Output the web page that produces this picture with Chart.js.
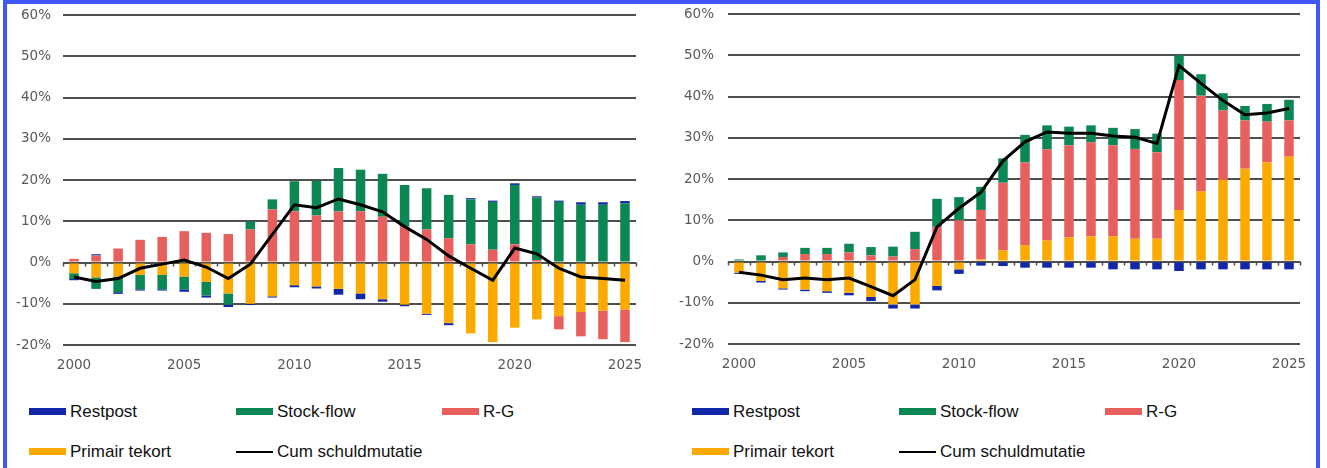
<!DOCTYPE html>
<html>
<head>
<meta charset="utf-8">
<script src="https://cdn.jsdelivr.net/npm/chart.js@4.4.1/dist/chart.umd.min.js"></script>
<style>
  body { margin: 0; background: #fff; width: 1327px; height: 468px; overflow: hidden; position: relative; }
  #frame { position: absolute; left: 3px; top: 0; width: 1309px; height: 490px; border: 4px solid #3f57f7; border-bottom: none; }
  canvas { position: absolute; top: 0; }
  .item { position: absolute; display: flex; align-items: center; white-space: nowrap; height: 20px; line-height: 20px;
          font-family: "Liberation Sans", Arial, sans-serif; font-size: 17px; color: #111; }
  .sw { width: 37px; height: 7px; margin-right: 4px; }
  .sw.line { height: 2px; }
</style>
</head>
<body>
<div id="frame"></div>
<canvas id="links" width="640" height="380" style="left:8px"></canvas>
<canvas id="rechts" width="640" height="380" style="left:672px"></canvas>
<div id="legends"></div>

<script>
// jaren
var jaren = ['2000','2001','2002','2003','2004','2005','2006','2007','2008','2009','2010','2011','2012',
             '2013','2014','2015','2016','2017','2018','2019','2020','2021','2022','2023','2024','2025'];

// linker grafiek (% bbp)
var primL  = [-2.6,-3.6,-3.4,-3.0,-3.0,-3.4,-4.7,-7.5,-10.0,-8.2,-5.5,-5.8,-6.4,-7.5,-8.9,-10.2,-12.4,-14.7,-17.2,-19.3,-15.8,-13.8,-13.0,-12.0,-11.7,-11.4];
var rgL    = [0.9,1.7,3.4,5.5,6.2,7.6,7.2,6.9,8.0,12.9,12.4,11.4,12.4,12.4,11.1,8.8,8.0,5.9,4.4,3.1,4.4,0.6,-3.2,-5.9,-6.9,-7.9];
var stockL = [-1.4,-2.8,-3.8,-3.5,-3.5,-3.1,-3.3,-2.7,1.9,2.4,7.3,8.4,10.5,10.1,10.4,10.0,10.0,10.5,10.9,11.6,14.4,15.2,14.7,14.0,14.0,14.3];
var restL  = [-0.3,0.3,-0.4,-0.3,-0.3,-0.6,-0.5,-0.6,-0.3,-0.3,-0.5,-0.5,-1.4,-1.4,-0.6,-0.4,-0.3,-0.5,0.3,0.3,0.4,0.25,0.3,0.6,0.6,0.6];
var cumL   = [-3.5,-4.6,-3.9,-1.4,-0.4,0.6,-1.1,-3.9,-0.4,6.8,14.0,13.3,15.4,14.0,12.3,8.7,5.6,1.6,-1.4,-4.3,3.5,2.1,-1.4,-3.5,-3.9,-4.3];

// rechter grafiek (% bbp)
var primR  = [-2.7,-4.7,-6.5,-6.8,-7.2,-7.6,-8.6,-10.4,-10.4,-5.9,-1.9,0.5,2.7,4.0,5.1,5.8,6.1,6.1,5.5,5.5,12.5,17.0,19.8,22.5,24.0,25.4];
var rgR    = [0,0,1.1,1.8,1.8,2.2,1.5,1.2,3.0,8.4,10.0,12.0,16.4,20.0,22.1,22.4,22.8,22.1,21.8,21.0,31.5,23.2,16.8,11.7,9.9,8.8];
var stockR = [0.5,1.5,1.1,1.5,1.5,2.1,2.0,2.4,4.2,6.8,5.6,5.6,5.9,6.7,5.8,4.5,4.1,4.2,4.8,4.5,6.0,5.2,4.2,3.5,4.3,5.0];
var restR  = [-0.3,-0.4,-0.3,-0.4,-0.4,-0.6,-1.0,-1.0,-1.0,-1.1,-1.1,-1.0,-1.1,-1.5,-1.5,-1.5,-1.5,-1.9,-1.9,-1.9,-2.3,-1.9,-1.9,-1.9,-1.9,-1.9];
var cumR   = [-2.6,-3.3,-4.4,-4.0,-4.4,-4.0,-6.1,-8.3,-4.4,8.4,12.9,16.8,24.4,29.0,31.4,31.1,31.1,30.4,30.1,28.6,47.5,43.2,39.0,35.6,36.0,37.1];

var kleuren = { rest: '#1227a8', stock: '#0b8754', rg: '#e8605e', prim: '#fcaa00', cum: '#000000' };
var tickFont = { family: 'DejaVu Sans', size: 13.5 };
var tickKleur = '#595959';
var rasterKleur = '#4f4f4f';

// volgorde van de legenda (index in datasets)
var legendaVolgorde = [3, 2, 1, 0, 4];

// kleine streepjes op de nullijn, op de grenzen tussen de jaren
var nulStreepjes = {
  id: 'nulStreepjes',
  beforeDatasetsDraw: function(chart) {
    var xs = chart.scales.x, ys = chart.scales.y, ctx = chart.ctx;
    var y0 = ys.getPixelForValue(0);
    var n = xs.ticks.length;
    var half = (xs.getPixelForTick(1) - xs.getPixelForTick(0)) / 2;
    ctx.save();
    ctx.strokeStyle = rasterKleur;
    ctx.lineWidth = 1.5;
    ctx.beginPath();
    for (var i = 0; i <= n; i++) {
      var px = Math.round(i < n ? xs.getPixelForTick(i) - half : xs.getPixelForTick(n - 1) + half) + 0.5;
      ctx.moveTo(px, y0);
      ctx.lineTo(px, y0 + 4);
    }
    ctx.stroke();
    ctx.restore();
  }
};

function maakGrafiek(id, prim, rg, stock, rest, cum, opts) {
  var datasets = [
    { label: 'Primair tekort', data: prim, backgroundColor: kleuren.prim },
    { label: 'R-G', data: rg, backgroundColor: kleuren.rg },
    { label: 'Stock-flow', data: stock, backgroundColor: kleuren.stock },
    { label: 'Restpost', data: rest, backgroundColor: kleuren.rest },
    { label: 'Cum schuldmutatie', type: 'line', data: cum, borderColor: kleuren.cum, borderWidth: 3,
      pointRadius: 0, fill: false, tension: 0, stack: 'cum', order: -1 }
  ];
  datasets.forEach(function(ds){
    if (!ds.type) { ds.barPercentage = 0.9; ds.categoryPercentage = 0.48; }
  });

  var chart = new Chart(document.getElementById(id), {
    type: 'bar',
    data: { labels: jaren, datasets: datasets },
    plugins: [nulStreepjes],
    options: {
      responsive: false,
      animation: false,
      layout: { padding: { top: opts.top, right: 12, left: 0, bottom: 0 } },
      plugins: { legend: { display: false }, tooltip: { enabled: false } },
      scales: {
        x: {
          stacked: true,
          offset: true,
          grid: { display: false, drawTicks: false },
          border: { display: false },
          ticks: {
            autoSkip: false, maxRotation: 0, padding: opts.xpad, color: tickKleur, font: tickFont,
            callback: function(v) { var l = this.getLabelForValue(v); return (+l) % 5 === 0 ? l : ''; }
          },
          afterFit: function(s) { s.height = opts.xh; s.paddingLeft = 0; s.paddingRight = 0; }
        },
        y: {
          stacked: true, min: -20, max: 60,
          ticks: { stepSize: 10, padding: opts.pad, color: tickKleur, font: tickFont,
                   callback: function(v) { return v + '%'; } },
          grid: { color: rasterKleur, lineWidth: 2, drawTicks: false },
          border: { display: false },
          afterFit: function(s) { s.width = opts.yw; s.paddingTop = 0; s.paddingBottom = 0; }
        }
      }
    }
  });

  // onderkant van het plotvlak op opts.bottom zetten
  var ca = chart.chartArea;
  if (Math.abs(ca.bottom - opts.bottom) > 0.5) {
    opts.xh += ca.bottom - opts.bottom;
    chart.update();
  }
  return chart;
}

function maakLegenda(chart, x0) {
  var box = document.getElementById('legends');
  var kolommen = [0, 207, 413];
  legendaVolgorde.forEach(function(idx, n) {
    var ds = chart.data.datasets[idx];
    var item = document.createElement('div');
    item.className = 'item';
    item.style.left = (x0 + kolommen[n % 3]) + 'px';
    item.style.top = (n < 3 ? 401.5 : 441.5) + 'px';
    var sw = document.createElement('span');
    sw.className = 'sw' + (ds.type === 'line' ? ' line' : '');
    sw.style.background = ds.type === 'line' ? ds.borderColor : ds.backgroundColor;
    var txt = document.createElement('span');
    txt.textContent = ds.label;
    item.appendChild(sw);
    item.appendChild(txt);
    box.appendChild(item);
  });
}

var links = maakGrafiek('links', primL, rgL, stockL, restL, cumL, { top: 15, bottom: 345, yw: 55, pad: 12, xh: 35, xpad: 12 });
var rechts = maakGrafiek('rechts', primR, rgR, stockR, restR, cumR, { top: 14, bottom: 344, yw: 56, pad: 14, xh: 36, xpad: 12 });
maakLegenda(links, 29);
maakLegenda(rechts, 692);
</script>
</body>
</html>
